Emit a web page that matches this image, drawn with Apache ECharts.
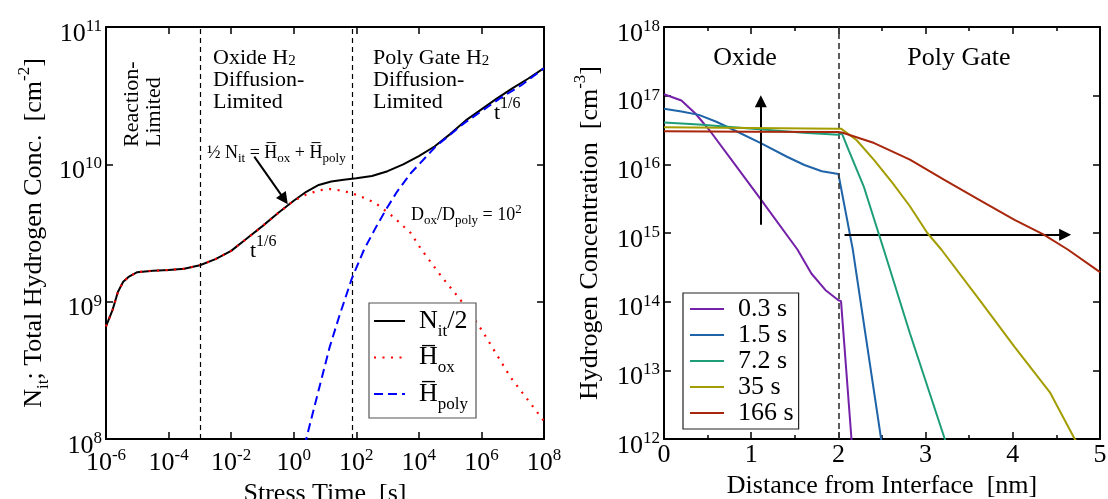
<!DOCTYPE html>
<html>
<head>
<meta charset="utf-8">
<script src="https://cdn.jsdelivr.net/npm/echarts@6/dist/echarts.min.js"></script>
<style>
  html, body { margin: 0; padding: 0; background: #fff; }
  #chart { width: 1108px; height: 499px; }
</style>
</head>
<body>
<div id="chart"></div>
<script>
// ---------- left panel: hydrogen density vs stress time (decade exponents) ----------
const nitLogT = [-6.0, -5.79, -5.62, -5.45, -5.28, -5.0, -4.5, -4.0, -3.5, -3.0, -2.5, -2.0, -1.5, -1.0, -0.5, 0.0,
                 0.4, 0.8, 1.2, 1.6, 2.0, 2.5, 3.0, 3.5, 4.0, 4.5, 5.0, 5.5, 6.0, 6.5, 7.0, 7.5, 8.0];
const nitLogN = [8.82, 8.94, 9.07, 9.145, 9.18, 9.215, 9.225, 9.23, 9.24, 9.265, 9.31, 9.37, 9.46, 9.55, 9.645, 9.735,
                 9.80, 9.85, 9.875, 9.888, 9.898, 9.915, 9.95, 10.0, 10.06, 10.13, 10.22, 10.32, 10.40, 10.48, 10.555, 10.625, 10.70];

const hoxLogT = [-6.0, -5.79, -5.62, -5.45, -5.28, -5.0, -4.5, -4.0, -3.5, -3.0, -2.5, -2.0, -1.5, -1.0, -0.5, 0.0,
                 0.4, 0.8, 1.16, 1.5, 1.86, 2.2, 2.6, 3.17, 3.74, 4.08, 4.7, 5.34, 6.02, 6.93, 7.9, 8.0];
const hoxLogN = [8.82, 8.94, 9.07, 9.145, 9.18, 9.215, 9.225, 9.23, 9.24, 9.265, 9.31, 9.37, 9.46, 9.55, 9.645, 9.735,
                 9.78, 9.81, 9.82, 9.81, 9.79, 9.76, 9.72, 9.62, 9.50, 9.38, 9.19, 9.01, 8.79, 8.45, 8.16, 8.13];

const hpolyLogT = [0.3, 0.40, 0.6, 0.88, 1.15, 1.45, 1.86, 2.25, 2.6, 2.94, 3.3, 3.74, 4.54, 5.45, 6.59, 7.3, 8.0];
const hpolyLogN = [7.85, 8.0, 8.18, 8.43, 8.67, 8.89, 9.17, 9.38, 9.53, 9.667, 9.80, 9.935, 10.13, 10.30, 10.48, 10.58, 10.70];

const regimeBounds = [1e-3, 72];            // stress times (s) separating the three regimes
const leftSeriesNames = ['N_it/2', 'H_ox', 'H_poly'];

// ---------- right panel: hydrogen profiles vs depth ----------
const profileNames = ['0.3 s', '1.5 s', '7.2 s', '35 s', '166 s'];

const depth03 = [0, 0.20, 0.36, 0.52, 0.80, 1.11, 1.53, 1.69, 1.85, 2.0, 2.03, 2.15, 2.2];
const conc03  = [1.05e17, 8.5e16, 5.5e16, 3.16e16, 1.05e16, 3.09e15, 5.75e14, 2.57e14, 1.48e14, 1.05e14, 1.02e14, 1.0e12, 2.0e11];

const depth15 = [0, 0.2, 0.4, 0.6, 0.8, 1.11, 1.41, 1.61, 1.81, 2.0, 2.02, 2.165, 2.49, 2.55];
const conc15  = [6.46e16, 5.89e16, 5.25e16, 4.17e16, 3.16e16, 2.04e16, 1.29e16, 9.77e15, 7.94e15, 7.24e15, 7.41e15, 5.75e14, 1.0e12, 3.16e11];

const depth72 = [0, 0.4, 0.8, 1.2, 1.6, 2.0, 2.04, 2.12, 2.29, 2.52, 2.82, 3.22, 3.3];
const conc72  = [4.07e16, 3.80e16, 3.47e16, 3.16e16, 2.88e16, 2.69e16, 2.82e16, 1.58e16, 4.79e15, 5.75e14, 3.47e13, 1.0e12, 5.0e11];

const depth35 = [0, 1.0, 2.0, 2.03, 2.21, 2.41, 2.62, 2.82, 3.02, 3.18, 3.62, 4.02, 4.43, 4.71, 4.8];
const conc35  = [3.47e16, 3.39e16, 3.31e16, 3.31e16, 2.24e16, 1.15e16, 5.37e15, 2.45e15, 1.0e15, 5.75e14, 1.05e14, 2.19e13, 4.68e12, 1.0e12, 7.08e11];

const depth166 = [0, 1.0, 2.0, 2.05, 2.41, 2.82, 3.22, 3.62, 4.02, 4.35, 4.63, 5.0];
const conc166  = [3.02e16, 2.99e16, 2.95e16, 2.88e16, 2.04e16, 1.17e16, 5.89e15, 3.02e15, 1.55e15, 9.55e14, 5.75e14, 2.69e14];

const interfaceDepth = 2;

// ---------- styling ----------
const F = '"Liberation Serif", "Times New Roman", serif';
const profileColors = ['#7420a8', '#1f64a8', '#1d9e78', '#a39d00', '#a8260c'];

const fromLog = (xs, ys) => xs.map((x, i) => [Math.pow(10, x), Math.pow(10, ys[i])]);
const pairs = (xs, ys) => xs.map((x, i) => [x, ys[i]]);

const powRich = {
  b: { fontFamily: F, fontSize: 26, lineHeight: 32, verticalAlign: 'middle', color: '#000' },
  s: { fontFamily: F, fontSize: 17, lineHeight: 16, verticalAlign: 'top', color: '#000' }
};
const powLabel = v => '{b|10}{s|' + Math.round(Math.log10(v)) + '}';

const nameRich = {
  b: { fontFamily: F, fontSize: 26, lineHeight: 36, verticalAlign: 'middle', color: '#000' },
  d: { fontFamily: F, fontSize: 17, lineHeight: 17, verticalAlign: 'bottom', color: '#000' },
  u: { fontFamily: F, fontSize: 17, lineHeight: 17, verticalAlign: 'top', color: '#000' }
};

const axisLine = { show: true, onZero: false, lineStyle: { color: '#000', width: 2 } };
const axisTick = { show: true, inside: true, length: 7, lineStyle: { color: '#000', width: 1.5 } };
const noSplit = { show: false };

function logX(grid, pos, labels) {
  return {
    type: 'log', logBase: 10, gridIndex: grid, position: pos,
    min: 1e-6, max: 1e8, interval: 2,
    axisLine, axisTick, splitLine: noSplit,
    axisLabel: labels ? { show: true, formatter: powLabel, rich: powRich, margin: 8, showMinLabel: true, showMaxLabel: true }
                      : { show: false }
  };
}
function logY(grid, pos, min, max, labels) {
  return {
    type: 'log', logBase: 10, gridIndex: grid, position: pos,
    min, max, interval: 1,
    axisLine, axisTick, splitLine: noSplit,
    axisLabel: labels ? { show: true, formatter: powLabel, rich: powRich, margin: 4, padding: [14, 0, 0, 0], showMinLabel: true, showMaxLabel: true }
                      : { show: false }
  };
}
function depthX(pos, labels) {
  return {
    type: 'value', gridIndex: 1, position: pos, min: 0, max: 5, interval: 1,
    axisLine, axisTick,
    minorTick: { show: true, splitNumber: 2, length: 4, lineStyle: { color: '#000', width: 1.5 } },
    splitLine: noSplit, minorSplitLine: { show: false },
    axisLabel: labels ? { show: true, fontFamily: F, fontSize: 26, lineHeight: 26, color: '#000', margin: 3, showMinLabel: true, showMaxLabel: true }
                      : { show: false }
  };
}

const xAxes = [
  Object.assign(logX(0, 'bottom', true), {
    name: 'Stress Time  [s]', nameLocation: 'middle', nameGap: 33,
    nameTextStyle: { fontFamily: F, fontSize: 26, color: '#000' }
  }),
  logX(0, 'top', false),
  Object.assign(depthX('bottom', true), {
    name: 'Distance from Interface  [nm]', nameLocation: 'middle', nameGap: 23,
    nameTextStyle: { fontFamily: F, fontSize: 26, color: '#000' }
  }),
  depthX('top', false)
];

const yAxes = [
  Object.assign(logY(0, 'left', 1e8, 1e11, true), {
    name: '{b|N}{d|it}{b|; Total Hydrogen Conc.  [cm}{u|-2}{b|]}',
    nameLocation: 'middle', nameGap: 54, nameTextStyle: { rich: nameRich }
  }),
  logY(0, 'right', 1e8, 1e11, false),
  Object.assign(logY(1, 'left', 1e12, 1e18, true), {
    name: '{b|Hydrogen Concentration  [cm}{u|-3}{b|]}',
    nameLocation: 'middle', nameGap: 56, nameTextStyle: { rich: nameRich }
  }),
  logY(1, 'right', 1e12, 1e18, false)
];

const arrowEnd = { symbol: 'triangle', symbolSize: 12 };
const arrowLine = { color: '#000', width: 2, type: 'solid' };
const boundaryLine = { color: '#000', width: 1.2, type: [5, 4] };

const leftSeries = [
  {
    name: leftSeriesNames[0], type: 'line', xAxisIndex: 0, yAxisIndex: 0,
    data: fromLog(nitLogT, nitLogN), symbol: 'none',
    color: '#000', lineStyle: { color: '#000', width: 2 }, z: 3,
    markLine: {
      silent: true, animation: false, symbol: ['none', 'none'], label: { show: false },
      lineStyle: boundaryLine,
      data: regimeBounds.map(t => [
        { coord: [t, 1e8], lineStyle: boundaryLine },
        { coord: [t, 1e11], lineStyle: boundaryLine }
      ]).concat([
        [ { coord: [Math.pow(10, -1.26), Math.pow(10, 10.056)], symbol: 'none', lineStyle: arrowLine },
          Object.assign({ coord: [Math.pow(10, -0.30), Math.pow(10, 9.745)], lineStyle: arrowLine }, arrowEnd) ]
      ])
    }
  },
  {
    name: leftSeriesNames[1], type: 'line', xAxisIndex: 0, yAxisIndex: 0,
    data: fromLog(hoxLogT, hoxLogN), symbol: 'none',
    color: '#ff0000', lineStyle: { color: '#ff0000', width: 2.2, type: [2, 6.5] }, z: 4
  },
  {
    name: leftSeriesNames[2], type: 'line', xAxisIndex: 0, yAxisIndex: 0,
    data: fromLog(hpolyLogT, hpolyLogN), symbol: 'none',
    color: '#0000ff', lineStyle: { color: '#0000ff', width: 2, type: [9, 5] }, z: 5
  }
];

const profileDepths = [depth03, depth15, depth72, depth35, depth166];
const profileConcs = [conc03, conc15, conc72, conc35, conc166];

const rightSeries = profileNames.map((name, i) => ({
  name, type: 'line', xAxisIndex: 2, yAxisIndex: 2,
  data: pairs(profileDepths[i], profileConcs[i]), symbol: 'none',
  color: profileColors[i], lineStyle: { color: profileColors[i], width: 2 }, z: 3 + i
}));
rightSeries[0].markLine = {
  silent: true, animation: false, symbol: ['none', 'none'], label: { show: false },
  lineStyle: { color: '#333', width: 1.6, type: [6, 4] },
  data: [
    { xAxis: interfaceDepth },
    [ { coord: [1.11, Math.pow(10, 15.12)], symbol: 'none', lineStyle: arrowLine },
      Object.assign({ coord: [1.11, Math.pow(10, 16.92)], lineStyle: arrowLine }, arrowEnd) ],
    [ { coord: [2.07, Math.pow(10, 14.976)], symbol: 'none', lineStyle: arrowLine },
      Object.assign({ coord: [4.60, Math.pow(10, 14.976)], lineStyle: arrowLine }, arrowEnd) ]
  ]
};

const legendRich = {
  b: { fontFamily: F, fontSize: 26, lineHeight: 38, verticalAlign: 'middle', color: '#000' },
  d: { fontFamily: F, fontSize: 17, lineHeight: 17, verticalAlign: 'bottom', color: '#000' }
};
const legendText = {
  'N_it/2': '{b|N}{d|it}{b|/2}',
  'H_ox': '{b|H\u0305}{d|ox}',
  'H_poly': '{b|H\u0305}{d|poly}'
};

// annotation text helpers
const ann = (x, y, text, rich, extra) => Object.assign({
  type: 'text', x, y, silent: true, z: 50,
  style: Object.assign({ text, rich, fill: '#000', align: 'left', verticalAlign: 'top' }, extra || {})
});
const regionRich = {
  a: { fontFamily: F, fontSize: 22, lineHeight: 22, verticalAlign: 'middle', fill: '#000' },
  s: { fontFamily: F, fontSize: 15, lineHeight: 13, verticalAlign: 'bottom', fill: '#000' }
};
const smallRich = {
  a: { fontFamily: F, fontSize: 18, lineHeight: 24, verticalAlign: 'middle', fill: '#000' },
  s: { fontFamily: F, fontSize: 13, lineHeight: 12, verticalAlign: 'bottom', fill: '#000' },
  u: { fontFamily: F, fontSize: 13, lineHeight: 12, verticalAlign: 'top', fill: '#000' }
};
const powerRich = {
  a: { fontFamily: F, fontSize: 22, lineHeight: 28, verticalAlign: 'bottom', fill: '#000' },
  u: { fontFamily: F, fontSize: 16, lineHeight: 16, verticalAlign: 'top', fill: '#000' }
};
const bigRich = {
  a: { fontFamily: F, fontSize: 26, lineHeight: 28, verticalAlign: 'middle', fill: '#000' }
};

const graphics = [
  Object.assign(ann(143, 147, '{a|Reaction-}\n{a|Limited}', regionRich, { verticalAlign: 'middle' }), { rotation: Math.PI / 2 }),
  ann(213, 47, '{a|Oxide H}{s|2}\n{a|Diffusion-}\n{a|Limited}', regionRich),
  ann(373, 47, '{a|Poly Gate H}{s|2}\n{a|Diffusion-}\n{a|Limited}', regionRich),
  ann(207, 141, '{a|\u00BD N}{s|it}{a| = H\u0305}{s|ox}{a| + H\u0305}{s|poly}', smallRich),
  ann(411, 203, '{a|D}{s|ox}{a|/D}{s|poly}{a| = 10}{u|2}', smallRich),
  ann(250, 234, '{a|t}{u|1/6}', powerRich),
  ann(494, 96, '{a|t}{u|1/6}', powerRich),
  ann(745, 44, '{a|Oxide}', bigRich, { align: 'center' }),
  ann(959, 44, '{a|Poly Gate}', bigRich, { align: 'center' })
];

const option = {
  animation: false,
  backgroundColor: '#fff',
  textStyle: { fontFamily: F },
  grid: [
    { left: 106, right: 564, top: 27, bottom: 60, containLabel: false, outerBoundsMode: 'none' },
    { left: 664, right: 8, top: 27, bottom: 60, containLabel: false, outerBoundsMode: 'none' }
  ],
  xAxis: xAxes,
  yAxis: yAxes,
  legend: [
    {
      data: leftSeriesNames, orient: 'vertical', left: 369, top: 303,
      itemWidth: 31, itemHeight: 14, itemGap: 4.5,
      padding: [5, 8, 5, 4], backgroundColor: '#fff', borderColor: '#555', borderWidth: 1.2, borderRadius: 0,
      itemStyle: { opacity: 0 },
      formatter: n => legendText[n],
      textStyle: { fontFamily: F, fontSize: 26, color: '#000', padding: [0, 0, 0, 9], rich: legendRich },
      selectedMode: false, z: 10
    },
    {
      data: profileNames, orient: 'vertical', left: 683, top: 293,
      itemWidth: 34, itemHeight: 10, itemGap: 0,
      padding: [3, 5, 3, 6], backgroundColor: '#fff', borderColor: '#222', borderWidth: 1.2, borderRadius: 0,
      itemStyle: { opacity: 0 },
      textStyle: { fontFamily: F, fontSize: 26, lineHeight: 23.7, color: '#000', padding: [0, 0, 0, 9] },
      selectedMode: false, z: 10
    }
  ],
  series: leftSeries.concat(rightSeries),
  graphic: graphics
};

const chart = echarts.init(document.getElementById('chart'), null, { renderer: 'canvas' });
chart.setOption(option);
</script>
</body>
</html>
